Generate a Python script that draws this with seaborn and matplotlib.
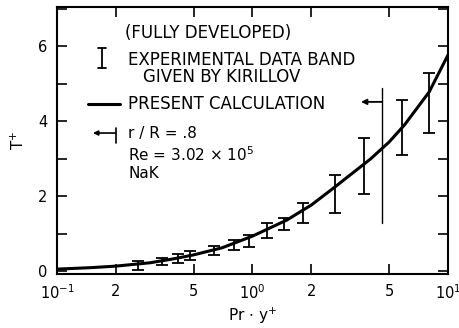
import numpy as np
import pandas as pd
import matplotlib
matplotlib.use("Agg")
import matplotlib.pyplot as plt
from matplotlib.ticker import FixedLocator, FixedFormatter
import seaborn as sns

# Calculated temperature profile T+ versus Pr*y+
calc_x = [0.1, 0.15, 0.2, 0.3, 0.4, 0.5, 0.7, 1.0, 1.5, 2.0, 2.64, 3.0, 4.0, 5.0, 6.0, 8.0, 10.0]
calc_y = [0.05, 0.09, 0.13, 0.22, 0.33, 0.43, 0.62, 0.93, 1.36, 1.76, 2.24, 2.47, 2.98, 3.44, 3.90, 4.77, 5.76]

# Experimental data band (Kirillov): lower and upper limits
exp_x = [0.259, 0.344, 0.416, 0.479, 0.635, 0.803, 0.959, 1.19, 1.45, 1.81, 2.64, 3.72, 5.82, 8.0]
exp_lo = [0.03, 0.16, 0.21, 0.29, 0.43, 0.56, 0.64, 0.88, 1.09, 1.28, 1.55, 2.05, 3.09, 3.68]
exp_hi = [0.28, 0.35, 0.45, 0.53, 0.67, 0.83, 0.96, 1.28, 1.41, 1.81, 2.56, 3.55, 4.56, 5.28]

# r/R = .8 marker
rR_x = 4.59
rR_span = [1.28, 4.88]
rR_arrow_y = 4.51
rR_arrow_to = 3.59

x_ticks = [0.1, 0.2, 0.5, 1, 2, 5, 10]
x_ticklabels = ["10$^{-1}$", "2", "5", "10$^{0}$", "2", "5", "10$^{1}$"]
y_ticks = [0, 1, 2, 3, 4, 5, 6, 7]
y_ticklabels = ["0", "", "2", "", "4", "", "6", ""]

sns.set_style("ticks")
plt.rcParams["font.family"] = ["DejaVu Sans"]
plt.rcParams.update({"text.color": "black", "axes.labelcolor": "black",
                     "xtick.color": "black", "ytick.color": "black",
                     "axes.edgecolor": "black"})

fig = plt.figure(figsize=(4.6, 3.28), dpi=100)
ax = fig.add_axes([57 / 460, 1 - 274 / 328, 391 / 460, 267 / 328])

df = pd.DataFrame({"x": calc_x, "y": calc_y})
sns.lineplot(data=df, x="x", y="y", ax=ax, color="black", lw=2.2)

lo = np.array(exp_lo)
hi = np.array(exp_hi)
mid = (lo + hi) / 2
ax.errorbar(exp_x, mid, yerr=[mid - lo, hi - mid], fmt="none", ecolor="black",
            elinewidth=1.3, capsize=4, capthick=1.3)

ax.plot([rR_x, rR_x], rR_span, color="black", lw=1.0)
ax.annotate("", xy=(rR_arrow_to, rR_arrow_y), xytext=(rR_x, rR_arrow_y),
            arrowprops=dict(arrowstyle="-|>", color="black", lw=1.3,
                            mutation_scale=8, shrinkA=0, shrinkB=0))

ax.set_xscale("log")
ax.set_xlim(0.1, 10)
ax.set_ylim(-0.08, 7.04)
ax.xaxis.set_major_locator(FixedLocator(x_ticks))
ax.xaxis.set_major_formatter(FixedFormatter(x_ticklabels))
ax.xaxis.set_minor_locator(FixedLocator([]))
ax.yaxis.set_major_locator(FixedLocator(y_ticks))
ax.yaxis.set_major_formatter(FixedFormatter(y_ticklabels))

ax.tick_params(axis="both", which="major", direction="in", length=7.5, width=1.2,
               labelsize=10.5, pad=7, top=True, right=True)
for s in ax.spines.values():
    s.set_linewidth(1.5)

ax.set_xlabel("Pr $\\cdot$ y$^{+}$", fontsize=11, labelpad=2)
ax.set_ylabel("T$^{+}$", fontsize=11, labelpad=8)

fs_upper = 12
fs_mixed = 11
tr = ax.transAxes
ax.text(0.174, 0.903, "(FULLY DEVELOPED)", transform=tr, fontsize=fs_upper, va="center")
ax.text(0.182, 0.801, "EXPERIMENTAL DATA BAND", transform=tr, fontsize=fs_upper, va="center")
ax.text(0.220, 0.738, "GIVEN BY KIRILLOV", transform=tr, fontsize=fs_upper, va="center")
ax.text(0.182, 0.637, "PRESENT CALCULATION", transform=tr, fontsize=fs_upper, va="center")
ax.text(0.182, 0.528, "r / R = .8", transform=tr, fontsize=fs_mixed, va="center")
ax.text(0.182, 0.446, "Re = 3.02 $\\times$ 10$^{5}$", transform=tr, fontsize=fs_mixed, va="center")
ax.text(0.182, 0.375, "NaK", transform=tr, fontsize=fs_mixed, va="center")

# legend glyphs
ax.plot([0.115, 0.115], [0.772, 0.846], transform=tr, color="black", lw=1.3)
ax.plot([0.105, 0.125], [0.846, 0.846], transform=tr, color="black", lw=1.3)
ax.plot([0.105, 0.125], [0.772, 0.772], transform=tr, color="black", lw=1.3)
ax.plot([0.079, 0.161], [0.637, 0.637], transform=tr, color="black", lw=2.2)
ax.plot([0.151, 0.151], [0.491, 0.547], transform=tr, color="black", lw=1.2)
ax.annotate("", xy=(0.092, 0.528), xytext=(0.151, 0.528), xycoords=tr, textcoords=tr,
            arrowprops=dict(arrowstyle="-|>", color="black", lw=1.2,
                            mutation_scale=7, shrinkA=0, shrinkB=0))

fig.savefig("out.png", dpi=100)
